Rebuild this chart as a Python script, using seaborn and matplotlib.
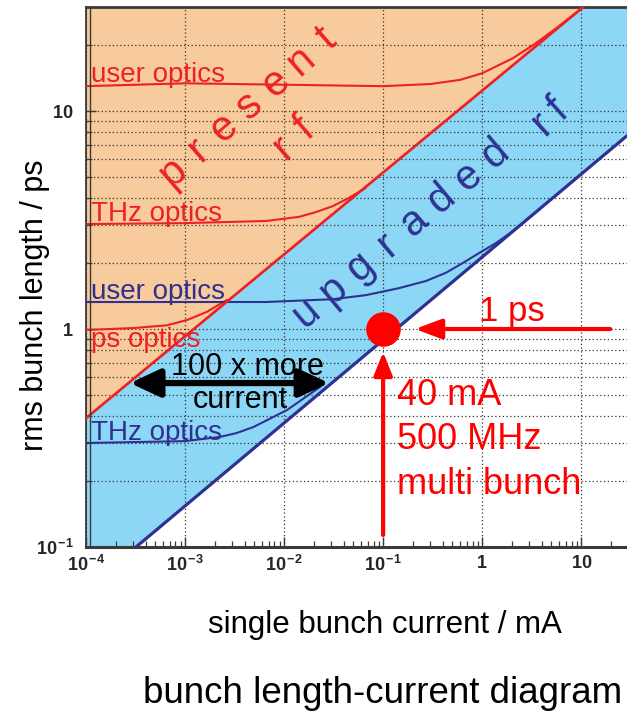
import matplotlib
matplotlib.use("Agg")
import matplotlib.pyplot as plt
import seaborn as sns

# ---------------- data ----------------
x_lim = [1e-4, 29.0]
y_lim = [0.1, 30.0]

# threshold lines (bunch length vs single bunch current)
present_rf_x = [1e-4, 10.5]
present_rf_y = [0.39, 30.0]
upgraded_rf_x = [3.2e-4, 29.0]
upgraded_rf_y = [0.1, 7.7]

# optics curves, present rf (red)
red_user_x = [1e-4, 1e-3, 1e-2, 0.1, 0.3, 0.6, 1.0, 2.06, 3.5, 5.6, 10.5]
red_user_y = [13.0, 13.4, 13.2, 13.0, 13.3, 13.9, 14.9, 17.5, 20.5, 24.0, 30.0]
red_thz_x = [1e-4, 1e-3, 0.0066, 0.0142, 0.021, 0.031, 0.045, 0.067]
red_thz_y = [3.03, 3.06, 3.13, 3.27, 3.44, 3.66, 3.99, 4.44]
red_ps_x = [1e-4, 3e-4, 6.6e-4, 1.05e-3, 1.67e-3, 2.65e-3]
red_ps_y = [0.99, 1.01, 1.04, 1.10, 1.20, 1.36]

# optics curves, upgraded rf (navy)
blue_user_x = [1e-4, 1e-3, 0.0066, 0.031, 0.067, 0.145, 0.27, 0.43, 0.64, 0.93, 1.38, 2.06]
blue_user_y = [1.33, 1.33, 1.33, 1.37, 1.43, 1.54, 1.66, 1.81, 2.01, 2.23, 2.48, 2.82]
blue_thz_x = [1e-4, 1e-3, 2.26e-3, 3.3e-3, 4.9e-3, 0.0107, 0.0231]
blue_thz_y = [0.30, 0.306, 0.32, 0.333, 0.355, 0.425, 0.542]

# operating point and annotations
dot_x = [0.1]
dot_y = [1.0]
ps_arrow_x = [19.6, 0.21]        # tail, tip
ps_arrow_y = [1.0, 1.0]
ma_arrow_x = [0.1, 0.1]
ma_arrow_y = [0.1135, 0.784]
more_arrow_x = [2.78e-4, 0.0285]
more_arrow_y = [0.565, 0.565]

x_ticks = [1e-4, 1e-3, 1e-2, 1e-1, 1, 10]
x_tick_labels = [r'$\mathbf{10}^{\,\mathbf{-4}}$', r'$\mathbf{10}^{\,\mathbf{-3}}$',
                 r'$\mathbf{10}^{\,\mathbf{-2}}$', r'$\mathbf{10}^{\,\mathbf{-1}}$',
                 r'$\mathbf{1}$', r'$\mathbf{10}$']
y_ticks = [0.1, 1, 10]
y_tick_labels = [r'$\mathbf{10}^{\,\mathbf{-1}}$', r'$\mathbf{1}$', r'$\mathbf{10}$']

# ---------------- style ----------------
ORANGE = '#F7CB9C'
LBLUE = '#8DD7F6'
RED = '#EE2024'
NAVY = '#2E3192'
PURE_RED = '#FF0000'
DARK = '#3A3A3A'

sns.set_theme(style="white")
plt.rcParams['font.family'] = ['Liberation Sans', 'DejaVu Sans']
plt.rcParams['mathtext.fontset'] = 'custom'
plt.rcParams['mathtext.rm'] = 'Liberation Sans'
plt.rcParams['mathtext.bf'] = 'Liberation Sans:bold'
plt.rcParams['mathtext.it'] = 'Liberation Sans:italic'

W, H = 627, 714
fig = plt.figure(figsize=(W / 100, H / 100), dpi=100)
ax = fig.add_axes([86 / W, 1 - 547 / H, 541 / W, 540 / H])
ax.set_xscale('log')
ax.set_yscale('log')
ax.set_xlim(x_lim)
ax.set_ylim(y_lim)

# ---------------- regions ----------------
blue_poly_x = [x_lim[0], upgraded_rf_x[0], upgraded_rf_x[1], x_lim[1], present_rf_x[1], present_rf_x[0]]
blue_poly_y = [y_lim[0], upgraded_rf_y[0], upgraded_rf_y[1], y_lim[1], present_rf_y[1], present_rf_y[0]]
ax.fill(blue_poly_x, blue_poly_y, color=LBLUE, lw=0, zorder=0.1)
orange_poly_x = [present_rf_x[0], present_rf_x[1], x_lim[0]]
orange_poly_y = [present_rf_y[0], present_rf_y[1], y_lim[1]]
ax.fill(orange_poly_x, orange_poly_y, facecolor=ORANGE, edgecolor='#555555', lw=0.8, zorder=0.1)

# grid
ax.set_axisbelow(True)
ax.grid(True, which='major', axis='both', linestyle=(0, (1, 2)), color='#333333', lw=0.9)
ax.grid(True, which='minor', axis='y', linestyle=(0, (1, 2)), color='#333333', lw=0.9)

# ---------------- lines ----------------
def curve(x, y, color, lw, z=3):
    sns.lineplot(x=x, y=y, ax=ax, color=color, lw=lw, sort=False,
                 estimator=None, legend=False, zorder=z)

curve(present_rf_x, present_rf_y, RED, 1.9, 4)
curve(upgraded_rf_x, upgraded_rf_y, NAVY, 2.3, 4)
curve(red_user_x, red_user_y, RED, 1.5)
curve(red_thz_x, red_thz_y, RED, 1.5)
curve(red_ps_x, red_ps_y, RED, 1.5)
curve(blue_user_x, blue_user_y, NAVY, 1.5)
curve(blue_thz_x, blue_thz_y, NAVY, 1.5)

sns.scatterplot(x=dot_x, y=dot_y, s=620, color=PURE_RED, linewidth=0,
                ax=ax, zorder=6, legend=False)

# arrows
ax.annotate('', xy=(ps_arrow_x[1], ps_arrow_y[1]), xytext=(ps_arrow_x[0], ps_arrow_y[0]),
            arrowprops=dict(arrowstyle='-|>,head_length=0.8,head_width=0.3', mutation_scale=20,
                            lw=3, color=PURE_RED, shrinkA=0, shrinkB=0), zorder=5)
ax.annotate('', xy=(ma_arrow_x[1], ma_arrow_y[1]), xytext=(ma_arrow_x[0], ma_arrow_y[0]),
            arrowprops=dict(arrowstyle='-|>,head_length=0.7,head_width=0.28', mutation_scale=20,
                            lw=3, color=PURE_RED, shrinkA=0, shrinkB=0), zorder=5)
ax.annotate('', xy=(more_arrow_x[1], more_arrow_y[1]), xytext=(more_arrow_x[0], more_arrow_y[0]),
            arrowprops=dict(arrowstyle='<|-|>,head_length=0.9,head_width=0.42', mutation_scale=20,
                            lw=4.5, color='black', shrinkA=0, shrinkB=0), zorder=5)

# ---------------- axes cosmetics ----------------
ax.set_xticks(x_ticks)
ax.set_xticklabels(x_tick_labels)
ax.set_yticks(y_ticks)
ax.set_yticklabels(y_tick_labels)
ax.xaxis.set_minor_formatter(matplotlib.ticker.NullFormatter())
ax.yaxis.set_minor_formatter(matplotlib.ticker.NullFormatter())
ax.tick_params(which='major', direction='in', length=7, width=1.0, color=DARK,
               labelsize=13, bottom=True, left=True, top=False, right=False)
ax.tick_params(which='minor', direction='in', length=4, width=0.9, color=DARK,
               bottom=True, left=True, top=False, right=False)
ax.tick_params(axis='x', pad=6)
ax.tick_params(axis='y', pad=9)
for side in ['left', 'bottom', 'top']:
    ax.spines[side].set_color(DARK)
ax.spines['left'].set_linewidth(1.3)
ax.spines['bottom'].set_linewidth(2.2)
ax.spines['top'].set_linewidth(2.0)
ax.spines['right'].set_visible(False)
ax.axvline(10 ** (-4 + 4 / 99), color=DARK, lw=1.0, zorder=4)

# ---------------- texts ----------------
def ptxt(px, py, s, **kw):
    fig.text(px / W, 1 - py / H, s, **kw)

ptxt(91, 82, 'user optics', color=RED, fontsize=20, va='baseline', ha='left')
ptxt(91, 221, 'THz optics', color=RED, fontsize=20, va='baseline', ha='left')
ptxt(91, 299, 'user optics', color=NAVY, fontsize=20, va='baseline', ha='left')
ptxt(91, 347, 'ps optics', color=RED, fontsize=20, va='baseline', ha='left')
ptxt(91, 440, 'THz optics', color=NAVY, fontsize=20, va='baseline', ha='left')

ptxt(247, 375, '100 x more', color='black', fontsize=22, va='baseline', ha='center')
ptxt(240, 408, 'current', color='black', fontsize=22, va='baseline', ha='center')

ptxt(512, 321, '1 ps', color=PURE_RED, fontsize=25, va='baseline', ha='center')
ptxt(397, 405, '40 mA', color=PURE_RED, fontsize=26, va='baseline', ha='left')
ptxt(397, 449, '500 MHz', color=PURE_RED, fontsize=26, va='baseline', ha='left')
ptxt(397, 494, 'multi bunch', color=PURE_RED, fontsize=26, va='baseline', ha='left')

def along(text, start, step, angle, color, size):
    for i, ch in enumerate(text):
        ptxt(start[0] + step[0] * i, start[1] + step[1] * i, ch, rotation=angle,
             rotation_mode='anchor', ha='center', va='center', color=color, fontsize=size)

along('present', (172.7, 172.6), (25.67, -22.3), 41, RED, 30)
along('rf', (283, 148), (22, -19), 41, RED, 30)
along('upgraded', (306, 313), (27, -22.7), 40, NAVY, 30)
along('rf', (542, 124), (16, -14), 42, NAVY, 30)

ptxt(35, 305, 'rms bunch length / ps', rotation=90, fontsize=22, va='center', ha='center', color='black')
ptxt(385, 633, 'single bunch current / mA', fontsize=22.5, va='baseline', ha='center', color='black')
ptxt(383, 703, 'bunch length-current diagram', fontsize=26.5, va='baseline', ha='center', color='black')

fig.savefig('out.png', dpi=100)
